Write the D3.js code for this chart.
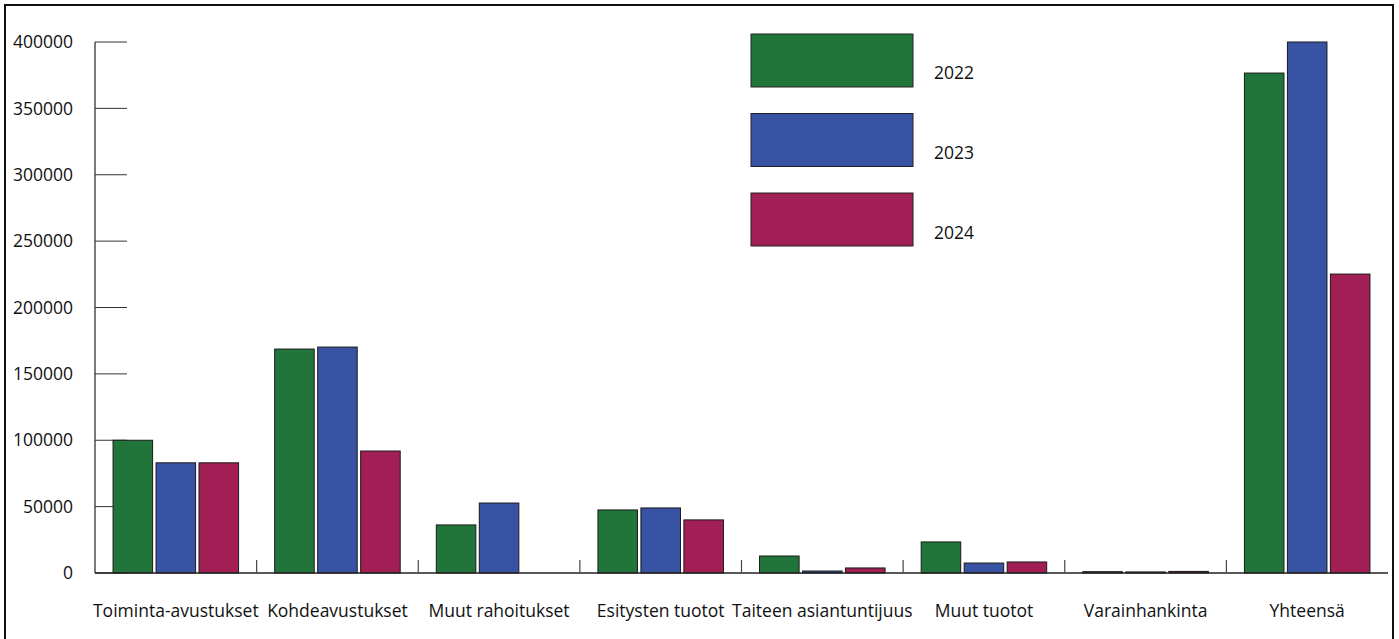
<!DOCTYPE html>
<html><head><meta charset="utf-8">
<script src="https://cdn.jsdelivr.net/npm/d3@7"></script>
<style>body{margin:0;background:#fff}svg{display:block}text{font-family:"Open Sans",sans-serif;fill:#111}</style>
</head><body>
<svg id="c" width="1399" height="639"></svg>
<script>
const categories = ["Toiminta-avustukset","Kohdeavustukset","Muut rahoitukset","Esitysten tuotot","Taiteen asiantuntijuus","Muut tuotot","Varainhankinta","Yhteensä"];
const seriesNames = ["2022","2023","2024"];
const v2022 = [100000,168700,36200,47500,12800,23400,1000,376600];
const v2023 = [83000,170200,52700,49000,1500,7500,800,400000];
const v2024 = [83000,91900,0,40000,3800,8300,1200,225200];
const yTicks = [0,50000,100000,150000,200000,250000,300000,350000,400000];
const colors = ["#22753A","#3953A4","#A21F56"];

const svg = d3.select("#c");
svg.append("rect").attr("x",5).attr("y",5).attr("width",1388).attr("height",650)
  .attr("fill","none").attr("stroke","#111").attr("stroke-width",2);

const pL=95, pR=1388, pT=42, pB=573;
const x = d3.scaleBand().domain(categories).range([pL,pR]).paddingInner(0).paddingOuter(0);
const xs = d3.scaleBand().domain(seriesNames).range([0,x.bandwidth()]).paddingInner(0.08).paddingOuter(0.42);
const y = d3.scaleLinear().domain([0,400000]).range([pB,pT]);

// y axis
const ya = svg.append("g");
ya.append("line").attr("x1",pL).attr("x2",pL).attr("y1",y(400000)).attr("y2",pB).attr("stroke","#222").attr("stroke-width",1.2);
ya.selectAll("line.t").data(yTicks).join("line").attr("class","t")
  .attr("x1",pL).attr("x2",pL+32).attr("y1",d=>y(d)).attr("y2",d=>y(d)).attr("stroke","#333").attr("stroke-width",1);
ya.selectAll("text").data(yTicks).join("text")
  .attr("x",73).attr("y",d=>y(d)).attr("dy","0.35em").attr("text-anchor","end")
  .style("font-size","17.5px").text(d=>d);

// bars
const data = [v2022,v2023,v2024];
const g = svg.append("g");
categories.forEach((c,i)=>{
  seriesNames.forEach((s,j)=>{
    const val=data[j][i];
    if(val<=0) return;
    g.append("rect").attr("x",x(c)+xs(s)).attr("y",y(val)).attr("width",xs.bandwidth()).attr("height",pB-y(val))
      .attr("fill",colors[j]).attr("stroke","#1a1a1a").attr("stroke-width",1);
  });
});

// x axis baseline and separators
svg.append("line").attr("x1",pL).attr("x2",pR).attr("y1",pB).attr("y2",pB).attr("stroke","#222").attr("stroke-width",1.5);
svg.selectAll("line.sep").data(categories.slice(1)).join("line").attr("class","sep")
  .attr("x1",d=>x(d)).attr("x2",d=>x(d)).attr("y1",pB).attr("y2",pB-13).attr("stroke","#444").attr("stroke-width",1.2);
svg.selectAll("text.cat").data(categories).join("text").attr("class","cat")
  .attr("x",d=>x(d)+x.bandwidth()/2).attr("y",611).attr("dy","0.35em").attr("text-anchor","middle")
  .style("font-size","17.5px").text(d=>d);

// legend
const lg = svg.append("g");
seriesNames.forEach((s,j)=>{
  lg.append("rect").attr("x",751).attr("y",34+j*79.5).attr("width",162).attr("height",53)
    .attr("fill",colors[j]).attr("stroke","#222").attr("stroke-width",1);
  lg.append("text").attr("x",934).attr("y",73+j*80).attr("dy","0.35em").style("font-size","17.5px").text(s);
});
</script>
</body></html>
